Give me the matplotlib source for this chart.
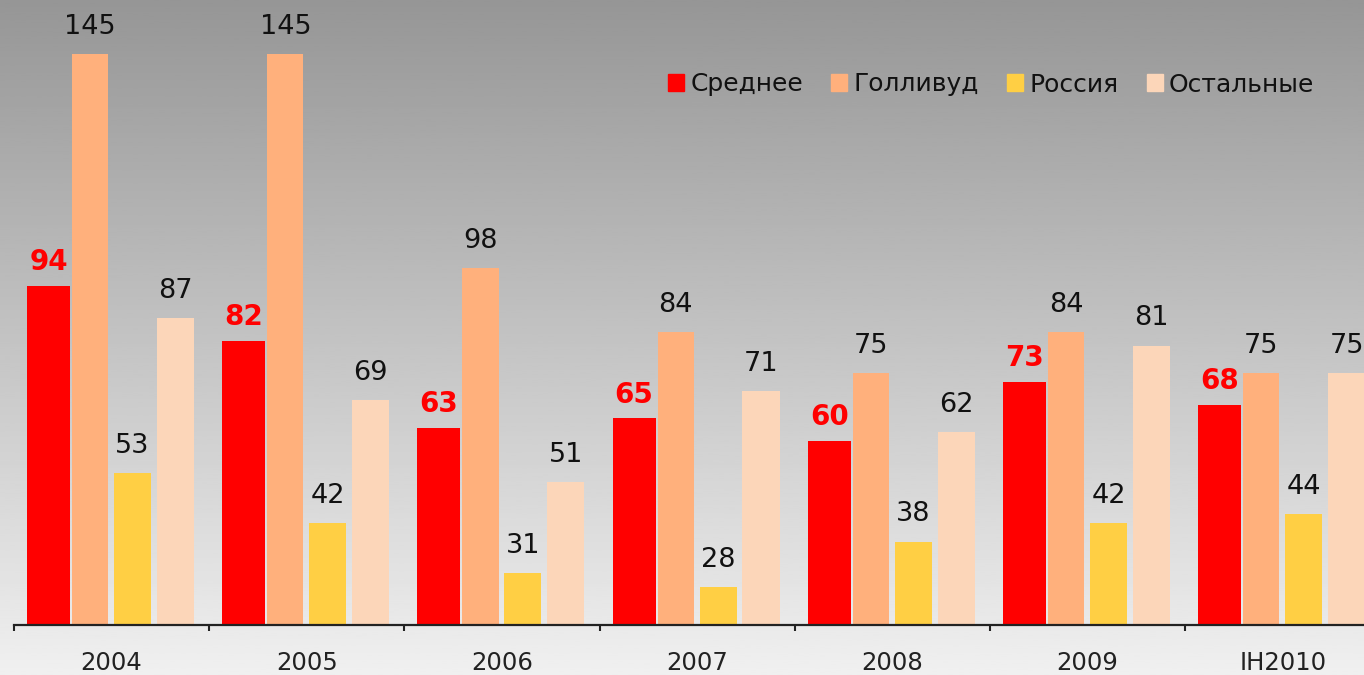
import numpy as np
import matplotlib
matplotlib.use("Agg")
import matplotlib.pyplot as plt
import matplotlib.patches as mpatches

# --- data ---
years = ["2004", "2005", "2006", "2007", "2008", "2009", "IH2010"]
series_names = ["Среднее", "Голливуд", "Россия", "Остальные"]
avg_vals = [94, 82, 63, 65, 60, 73, 68]
hollywood_vals = [145, 145, 98, 84, 75, 84, 75]
russia_vals = [53, 42, 31, 28, 38, 42, 44]
other_vals = [87, 69, 51, 71, 62, 81, 75]

colors = ["#FF0000", "#FFB07C", "#FFCF44", "#FCD6B9"]
# bar centre offsets / widths inside a group (group spans -0.5..0.5)
offsets = [-0.323, -0.11, 0.107, 0.327]
widths = [0.22, 0.185, 0.19, 0.19]

fig = plt.figure(figsize=(13.64, 6.75), dpi=100)

# vertical grey gradient background
bg = fig.add_axes([0, 0, 1, 1], zorder=0)
grad = np.linspace(150, 240, 256).reshape(-1, 1) / 255.0
bg.imshow(grad, cmap="gray", vmin=0, vmax=1, aspect="auto", extent=[0, 1, 0, 1])
bg.axis("off")

ax = fig.add_axes([14 / 1364, 50 / 675, 1350 / 1364, 625 / 675], zorder=1)
ax.set_facecolor("none")

x = np.arange(len(years))
all_vals = [avg_vals, hollywood_vals, russia_vals, other_vals]
handles = []
for i, vals in enumerate(all_vals):
    bars = ax.bar(x + offsets[i], vals, width=widths[i], color=colors[i],
                  label=series_names[i], zorder=2)
    for b, v in zip(bars, vals):
        if i == 0:
            ax.annotate(str(v), (b.get_x() + b.get_width() / 2, v),
                        xytext=(0, 11.5), textcoords="offset points",
                        ha="center", va="baseline", fontsize=20,
                        fontweight="bold", color="#FF0000")
        else:
            ax.annotate(str(v), (b.get_x() + b.get_width() / 2, v),
                        xytext=(0, 14.5), textcoords="offset points",
                        ha="center", va="baseline", fontsize=19.5,
                        color="#111111")
    handles.append(mpatches.Patch(color=colors[i], label=series_names[i]))

for s in ["top", "right", "left"]:
    ax.spines[s].set_visible(False)
ax.spines["bottom"].set_color("#222222")
ax.spines["bottom"].set_linewidth(1.6)
ax.spines["bottom"].set_zorder(3)
ax.set_yticks([])

# boundary ticks between groups, labels centred on groups
ax.set_xticks(np.arange(len(years) + 1) - 0.5)
ax.set_xticklabels([])
ax.tick_params(axis="x", which="major", direction="out", length=4,
               width=1.5, color="#222222")
ax.set_xticks(x, minor=True)
ax.set_xticklabels(years, minor=True, fontsize=17.5, color="#222222")
ax.tick_params(axis="x", which="minor", length=0, pad=19)

# limits last, set_xticks would widen them otherwise
ax.set_xlim(-0.5, -0.5 + 1350 / 195.2)
ax.set_ylim(19.7, 156.8)

leg = ax.legend(handles=handles, loc="upper right", ncol=4, frameon=False,
                fontsize=18, handlelength=0.65, handleheight=0.65,
                handletextpad=0.25, columnspacing=1.12,
                bbox_to_anchor=(0.98, 0.92))
for t in leg.get_texts():
    t.set_color("#111111")

fig.savefig("out.png", dpi=100)
